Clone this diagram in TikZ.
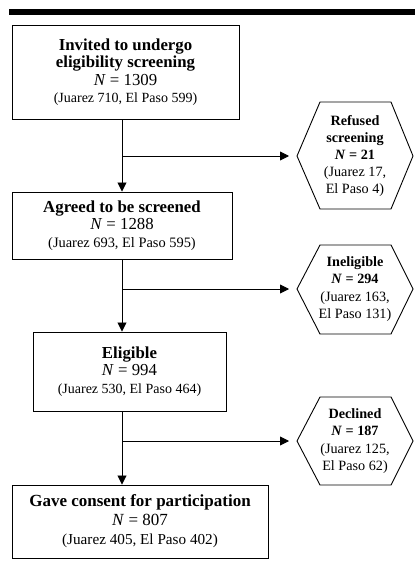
\documentclass[tikz,border=0pt]{standalone}
\usepackage{fontspec}
\setmainfont{Liberation Serif}
\usetikzlibrary{arrows.meta}
\begin{document}
\begin{tikzpicture}[x=1pt,y=-1pt,
  box/.style={draw, line width=0.95pt, align=center, inner sep=0pt},
  bigtxt/.style={font=\fontsize{16.8}{17.5}\selectfont},
  hexline/.style={draw, line width=0.9pt, line join=miter},
  hextext/.style={align=center, inner sep=0pt, font=\fontsize{14.2}{17.2}\selectfont},
  conn/.style={line width=0.9pt},
  arr/.style={conn, -{Triangle[width=9pt,length=9pt]}},
  sidearr/.style={arr, shorten >=8pt},
]
\useasboundingbox (0,0) rectangle (415,580);
\fill (9,9) rectangle (415,15);

% main boxes
\node[box, bigtxt, minimum width=227pt, minimum height=94pt] (b1) at (125.5,72)
  {\textbf{Invited to undergo}\\\textbf{eligibility screening}\\\textit{N} = 1309\\{\fontsize{14}{16}\selectfont (Juarez 710, El Paso 599)}};
\node[box, bigtxt, minimum width=220pt, minimum height=67pt] (b2) at (122,225.5)
  {\textbf{Agreed to be screened}\\\textit{N} = 1288\\{\fontsize{14.4}{16}\selectfont (Juarez 693, El Paso 595)}};
\node[box, bigtxt, minimum width=193pt, minimum height=79pt] (b3) at (129.5,371.5)
  {\textbf{Eligible}\\\textit{N} = 994\\{\fontsize{14}{16}\selectfont (Juarez 530, El Paso 464)}};
\node[box, font=\fontsize{17}{19}\selectfont, minimum width=256pt, minimum height=73pt] (b4) at (140,521.5)
  {\textbf{Gave consent for participation}\\\textit{N} = 807\\{\fontsize{15.2}{17}\selectfont (Juarez 405, El Paso 402)}};

% hexagons
\draw[hexline] (297,156) -- (320,102) -- (391,102) -- (413,156) -- (391,209) -- (320,209) -- cycle;
\coordinate (h1w) at (297,156);
\node[hextext] (h1) at (355,156) {\textbf{Refused}\\\textbf{screening}\\\textbf{\textit{N} = 21}\\(Juarez 17,\\El Paso 4)};

\draw[hexline] (297,289) -- (320,245) -- (391,245) -- (413,289) -- (391,334) -- (320,334) -- cycle;
\coordinate (h2w) at (297,289);
\node[hextext] (h2) at (355,289) {\textbf{Ineligible}\\\textbf{\textit{N} = 294}\\(Juarez 163,\\El Paso 131)};

\draw[hexline] (297,441) -- (320,397) -- (391,397) -- (413,441) -- (391,485) -- (320,485) -- cycle;
\coordinate (h3w) at (297,441);
\node[hextext] (h3) at (355,441) {\textbf{Declined}\\\textbf{\textit{N} = 187}\\(Juarez 125,\\El Paso 62)};

% trunk
\coordinate (t) at (122,0);
\coordinate (j1) at (122,156);
\coordinate (j2) at (122,289);
\coordinate (j3) at (122,441);
\draw[arr] (b1.south -| t) -- (b2.north -| t);
\draw[arr] (b2.south -| t) -- (b3.north -| t);
\draw[arr] (b3.south -| t) -- (b4.north -| t);
\draw[sidearr] (j1) -- (h1w);
\draw[sidearr] (j2) -- (h2w);
\draw[sidearr] (j3) -- (h3w);
\end{tikzpicture}
\end{document}
